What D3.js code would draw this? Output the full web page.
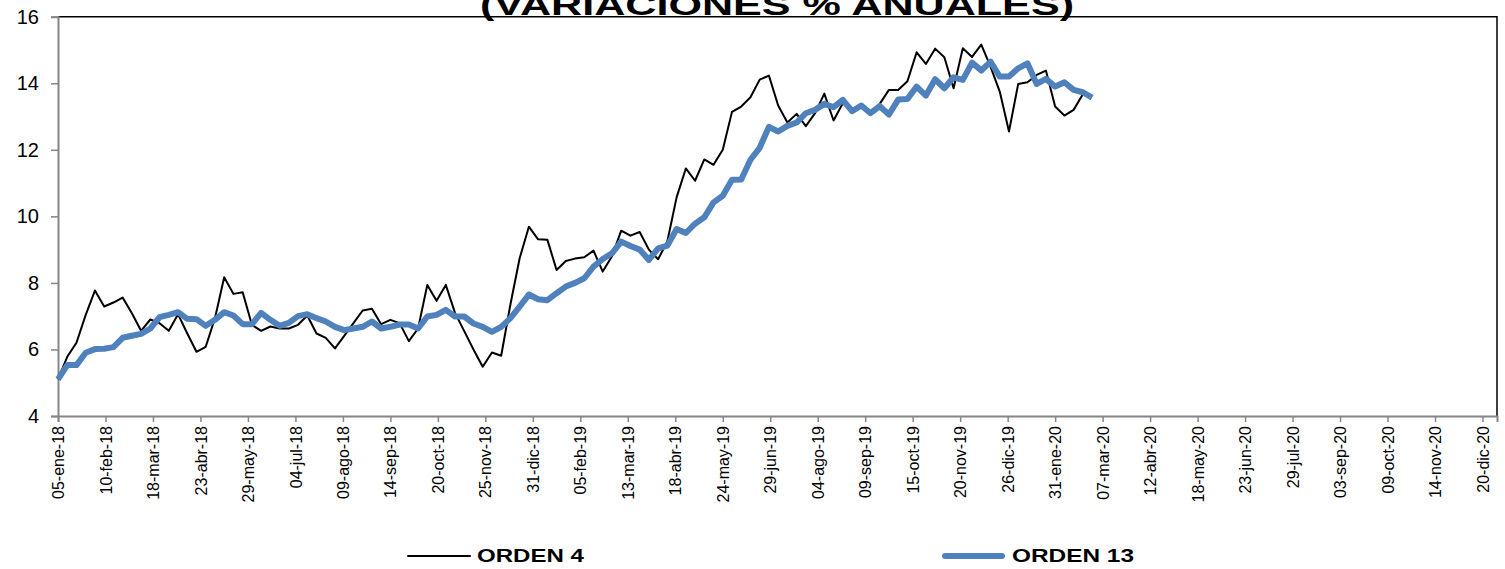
<!DOCTYPE html>
<html>
<head>
<meta charset="utf-8">
<script src="https://cdn.jsdelivr.net/npm/d3@7"></script>
<style>
  html, body { margin: 0; padding: 0; background: #fff; }
  svg { display: block; }
  text { font-family: "Liberation Sans", Arial, sans-serif; }
</style>
</head>
<body>
<svg id="chart" width="1505" height="569"></svg>
<script>
// ---- DATA ----
const titleText = "(VARIACIONES  % ANUALES)";
const seriesNames = ["ORDEN 4", "ORDEN 13"];
const firstWeek = "05-ene-18"; // weekly observations (Fridays) starting here
const orden4 = [
  5.10, 5.78, 6.20, 7.04, 7.77, 7.29, 7.41, 7.56, 7.09, 6.56,
  6.90, 6.79, 6.56, 7.06, 6.48, 5.93, 6.08, 6.94, 8.17, 7.67,
  7.72, 6.74, 6.56, 6.69, 6.63, 6.63, 6.74, 7.02, 6.48, 6.35,
  6.03, 6.41, 6.79, 7.17, 7.22, 6.76, 6.89, 6.79, 6.25, 6.63,
  7.94, 7.46, 7.94, 7.10, 6.55, 6.00, 5.48, 5.91, 5.81, 7.35,
  8.74, 9.69, 9.31, 9.30, 8.39, 8.66, 8.73, 8.77, 8.97, 8.34,
  8.80, 9.57, 9.42, 9.53, 9.00, 8.71, 9.25, 10.57, 11.44, 11.07,
  11.71, 11.55, 12.00, 13.14, 13.30, 13.58, 14.11, 14.23, 13.33, 12.82,
  13.08, 12.71, 13.10, 13.69, 12.88, 13.40, 13.20, 13.30, 13.10, 13.38,
  13.80, 13.80, 14.06, 14.93, 14.58, 15.04, 14.78, 13.85, 15.05, 14.79,
  15.16, 14.50, 13.75, 12.55, 13.98, 14.03, 14.25, 14.38, 13.30, 13.03,
  13.20, 13.67
];
const orden13 = [
  5.10, 5.53, 5.53, 5.90, 6.01, 6.02, 6.07, 6.35, 6.41, 6.47,
  6.63, 6.97, 7.04, 7.12, 6.92, 6.91, 6.71, 6.89, 7.12, 7.02,
  6.76, 6.76, 7.10, 6.89, 6.71, 6.80, 7.00, 7.06, 6.94, 6.84,
  6.68, 6.58, 6.63, 6.68, 6.84, 6.63, 6.68, 6.75, 6.75, 6.63,
  6.99, 7.04, 7.19, 6.99, 6.99, 6.78, 6.68, 6.53, 6.68, 6.94,
  7.29, 7.65, 7.51, 7.48, 7.69, 7.89, 8.00, 8.14, 8.49, 8.72,
  8.89, 9.24, 9.11, 9.00, 8.69, 9.04, 9.12, 9.62, 9.50, 9.78,
  9.97, 10.42, 10.62, 11.10, 11.11, 11.70, 12.06, 12.69, 12.55, 12.72,
  12.82, 13.10, 13.20, 13.38, 13.28, 13.50, 13.16, 13.33, 13.10, 13.31,
  13.06, 13.51, 13.53, 13.90, 13.63, 14.12, 13.85, 14.18, 14.10, 14.62,
  14.38, 14.65, 14.20, 14.20, 14.45, 14.60, 13.98, 14.13, 13.90, 14.03,
  13.80, 13.73, 13.57
];
const yTicks = [4, 6, 8, 10, 12, 14, 16];
const xTickLabels = [
  "05-ene-18","10-feb-18","18-mar-18","23-abr-18","29-may-18","04-jul-18",
  "09-ago-18","14-sep-18","20-oct-18","25-nov-18","31-dic-18","05-feb-19",
  "13-mar-19","18-abr-19","24-may-19","29-jun-19","04-ago-19","09-sep-19",
  "15-oct-19","20-nov-19","26-dic-19","31-ene-20","07-mar-20","12-abr-20",
  "18-may-20","23-jun-20","29-jul-20","03-sep-20","09-oct-20","14-nov-20",
  "20-dic-20"
];
const xDomainLabels = ["05-ene-18", "31-dic-20"];

// ---- HELPERS ----
const monthsEs = ["ene","feb","mar","abr","may","jun","jul","ago","sep","oct","nov","dic"];
function parseEs(s) {
  const [d, m, yy] = s.split("-");
  return new Date(Date.UTC(2000 + (+yy), monthsEs.indexOf(m), +d));
}
const DAY = 86400000;
const startDate = parseEs(firstWeek);
const weekDate = i => new Date(startDate.getTime() + i * 7 * DAY);

// ---- LAYOUT ----
const svg = d3.select("#chart");
const mLeft = 58, mRight = 1497, mTop = 16.7, mBottom = 416;

const x = d3.scaleUtc().domain(xDomainLabels.map(parseEs)).range([mLeft, mRight]);
const y = d3.scaleLinear().domain([4, 16]).range([mBottom, mTop]);

// plot frame (top & right)
svg.append("path")
  .attr("d", `M${mLeft},${mTop}H${mRight}V${mBottom}`)
  .attr("fill", "none").attr("stroke", "#000").attr("stroke-width", 1.5);

// title (partly clipped at the top)
svg.append("text")
  .attr("x", 777).attr("y", 15)
  .attr("text-anchor", "middle")
  .attr("font-weight", "bold").attr("font-size", 30)
  .attr("textLength", 594).attr("lengthAdjust", "spacingAndGlyphs")
  .text(titleText);

// Y axis
const yAxis = svg.append("g").attr("transform", `translate(${mLeft},0)`)
  .call(d3.axisLeft(y).tickValues(yTicks).tickSize(7).tickPadding(12).tickFormat(d3.format("d")));
yAxis.select(".domain").attr("stroke", "#868686").attr("stroke-width", 2);
yAxis.selectAll(".tick line").attr("stroke", "#868686").attr("stroke-width", 1.5);
yAxis.selectAll(".tick text").attr("font-size", 20).attr("fill", "#000")
  .attr("font-family", "'Liberation Sans', Arial, sans-serif");

// X axis
const xAxis = svg.append("g").attr("transform", `translate(0,${mBottom})`)
  .call(d3.axisBottom(x).tickValues(xTickLabels.map(parseEs)).tickSize(6)
    .tickFormat((d, i) => xTickLabels[i]));
xAxis.select(".domain").attr("stroke", "#868686").attr("stroke-width", 2);
xAxis.selectAll(".tick line").attr("stroke", "#868686").attr("stroke-width", 1.5);
xAxis.selectAll(".tick text")
  .attr("font-size", 16).attr("fill", "#000")
  .attr("font-family", "'Liberation Sans', Arial, sans-serif")
  .attr("text-anchor", "end")
  .attr("transform", "rotate(-90)")
  .attr("x", -10).attr("y", 0).attr("dy", "0.35em");

// lines
const line = d3.line()
  .x((d, i) => x(weekDate(i)))
  .y(d => y(d));

svg.append("path").datum(orden4)
  .attr("d", line).attr("fill", "none")
  .attr("stroke", "#000").attr("stroke-width", 2).attr("stroke-linejoin", "round");

svg.append("path").datum(orden13)
  .attr("d", line).attr("fill", "none")
  .attr("stroke", "#4F81BD").attr("stroke-width", 6).attr("stroke-linejoin", "round");

// legend
const legendY = 556;
const legendItems = [
  { name: seriesNames[0], x0: 408, x1: 470, color: "#000", w: 2, tx: 477, len: 107 },
  { name: seriesNames[1], x0: 945, x1: 1002, color: "#4F81BD", w: 6, tx: 1012, len: 122 }
];
legendItems.forEach(it => {
  svg.append("line").attr("x1", it.x0).attr("x2", it.x1)
    .attr("y1", legendY).attr("y2", legendY)
    .attr("stroke", it.color).attr("stroke-width", it.w).attr("stroke-linecap", "round");
  svg.append("text").attr("x", it.tx).attr("y", legendY).attr("dy", "0.35em")
    .attr("font-weight", "bold").attr("font-size", 18)
    .attr("textLength", it.len).attr("lengthAdjust", "spacingAndGlyphs")
    .text(it.name);
});
</script>
</body>
</html>
